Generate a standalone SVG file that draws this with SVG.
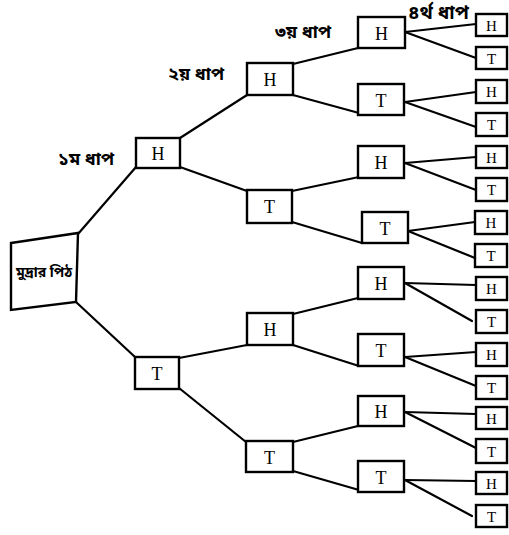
<svg xmlns="http://www.w3.org/2000/svg" width="509" height="535" viewBox="0 0 509 535">
<style>
.b{fill:#fff;stroke:#000;stroke-width:2.4}
.t{font-family:"Liberation Serif","DejaVu Serif",serif;font-size:18px;fill:#000;text-anchor:middle}
.s{font-family:"Liberation Serif","DejaVu Serif",serif;font-size:15px;fill:#000;text-anchor:middle}
.c line{stroke:#000;stroke-width:2.2;stroke-linecap:round}
.l{font-family:"Noto Sans Bengali","Noto Sans","DejaVu Sans",sans-serif;font-size:18px;font-weight:bold;fill:#000}
</style>
<rect width="509" height="535" fill="#fff"/>
<g id="connectors" class="c">
<line x1="78" y1="234" x2="136" y2="167"/>
<line x1="76" y1="302" x2="135" y2="357"/>
<line x1="180" y1="138" x2="247" y2="95"/>
<line x1="180" y1="167" x2="247" y2="191"/>
<line x1="179" y1="358" x2="247" y2="345"/>
<line x1="179" y1="388" x2="246" y2="442"/>
<line x1="293" y1="64" x2="358" y2="48"/>
<line x1="293" y1="95" x2="359" y2="113"/>
<line x1="292" y1="191" x2="359" y2="177"/>
<line x1="292" y1="222" x2="362" y2="243"/>
<line x1="293" y1="314" x2="358" y2="298"/>
<line x1="293" y1="345" x2="359" y2="366"/>
<line x1="293" y1="442" x2="358" y2="426"/>
<line x1="293" y1="471" x2="359" y2="490"/>
<line x1="405" y1="32" x2="476" y2="24"/>
<line x1="405" y1="32" x2="476" y2="58"/>
<line x1="405" y1="102" x2="476" y2="92"/>
<line x1="405" y1="102" x2="476" y2="127"/>
<line x1="405" y1="163" x2="476" y2="157"/>
<line x1="405" y1="163" x2="476" y2="190"/>
<line x1="408" y1="231" x2="475" y2="222"/>
<line x1="408" y1="231" x2="475" y2="258"/>
<line x1="405" y1="283" x2="476" y2="285"/>
<line x1="405" y1="283" x2="472" y2="321"/>
<line x1="405" y1="357" x2="476" y2="352"/>
<line x1="405" y1="357" x2="476" y2="386"/>
<line x1="405" y1="412" x2="476" y2="414"/>
<line x1="405" y1="412" x2="476" y2="448"/>
<line x1="405" y1="480" x2="476" y2="481"/>
<line x1="405" y1="480" x2="472" y2="516"/>
</g>
<g id="labels">
<text class="l" x="58" y="165">১ম ধাপ</text>
<text class="l" x="168" y="80">২য় ধাপ</text>
<text class="l" x="275" y="38">৩য় ধাপ</text>
<text class="l" x="408" y="19" style="font-size:19px">৪র্থ ধাপ</text>
</g>
<g id="root"><path class="b" d="M11,243 L78,233 L76,302 L11,310 Z"/><text class="l" x="44" y="277" style="font-size:14px;text-anchor:middle">মুদ্রার পিঠ</text></g>
<g id="l1H"><rect class="b" x="136" y="138" width="44" height="30"/><text class="t" x="158" y="160">H</text></g>
<g id="l1T"><rect class="b" x="135" y="357" width="44" height="32"/><text class="t" x="157" y="380">T</text></g>
<g id="l2H1"><rect class="b" x="247" y="63" width="46" height="32"/><text class="t" x="270" y="86">H</text></g>
<g id="l2T1"><rect class="b" x="247" y="190" width="45" height="33"/><text class="t" x="269.5" y="213">T</text></g>
<g id="l2H2"><rect class="b" x="247" y="313" width="46" height="32"/><text class="t" x="270" y="336">H</text></g>
<g id="l2T2"><rect class="b" x="246" y="441" width="47" height="31"/><text class="t" x="269.5" y="464">T</text></g>
<g id="l3H1"><rect class="b" x="358" y="17" width="47" height="31"/><text class="t" x="381.5" y="40">H</text></g>
<g id="l3T1"><rect class="b" x="358" y="84" width="46" height="31"/><text class="t" x="381" y="107">T</text></g>
<g id="l3H2"><rect class="b" x="358" y="146" width="46" height="32"/><text class="t" x="381" y="169">H</text></g>
<g id="l3T2"><rect class="b" x="362" y="212" width="46" height="31"/><text class="t" x="385" y="235">T</text></g>
<g id="l3H3"><rect class="b" x="358" y="267" width="46" height="32"/><text class="t" x="381" y="290">H</text></g>
<g id="l3T3"><rect class="b" x="358" y="334" width="46" height="32"/><text class="t" x="381" y="357">T</text></g>
<g id="l3H4"><rect class="b" x="358" y="396" width="46" height="30"/><text class="t" x="381" y="418">H</text></g>
<g id="l3T4"><rect class="b" x="358" y="461" width="46" height="31"/><text class="t" x="381" y="484">T</text></g>
<g id="leaf1"><rect class="b" x="476" y="14" width="31" height="22"/><text class="s" x="491.5" y="30.5">H</text></g>
<g id="leaf2"><rect class="b" x="476" y="47" width="31" height="22"/><text class="s" x="491.5" y="63.5">T</text></g>
<g id="leaf3"><rect class="b" x="476" y="80" width="31" height="23"/><text class="s" x="491.5" y="97">H</text></g>
<g id="leaf4"><rect class="b" x="476" y="113" width="31" height="23"/><text class="s" x="491.5" y="130">T</text></g>
<g id="leaf5"><rect class="b" x="476" y="146" width="31" height="22"/><text class="s" x="491.5" y="162.5">H</text></g>
<g id="leaf6"><rect class="b" x="476" y="178" width="31" height="23"/><text class="s" x="491.5" y="195">T</text></g>
<g id="leaf7"><rect class="b" x="475" y="211" width="32" height="23"/><text class="s" x="491" y="228">H</text></g>
<g id="leaf8"><rect class="b" x="475" y="244" width="32" height="23"/><text class="s" x="491" y="261">T</text></g>
<g id="leaf9"><rect class="b" x="476" y="277" width="31" height="23"/><text class="s" x="491.5" y="294">H</text></g>
<g id="leaf10"><rect class="b" x="476" y="310" width="31" height="23"/><text class="s" x="491.5" y="327">T</text></g>
<g id="leaf11"><rect class="b" x="476" y="343" width="31" height="23"/><text class="s" x="491.5" y="360">H</text></g>
<g id="leaf12"><rect class="b" x="476" y="376" width="31" height="23"/><text class="s" x="491.5" y="393">T</text></g>
<g id="leaf13"><rect class="b" x="476" y="407" width="31" height="22"/><text class="s" x="491.5" y="423.5">H</text></g>
<g id="leaf14"><rect class="b" x="476" y="439" width="31" height="24"/><text class="s" x="491.5" y="456.5">T</text></g>
<g id="leaf15"><rect class="b" x="476" y="472" width="31" height="22"/><text class="s" x="491.5" y="488.5">H</text></g>
<g id="leaf16"><rect class="b" x="476" y="505" width="31" height="22"/><text class="s" x="491.5" y="521.5">T</text></g>
</svg>
